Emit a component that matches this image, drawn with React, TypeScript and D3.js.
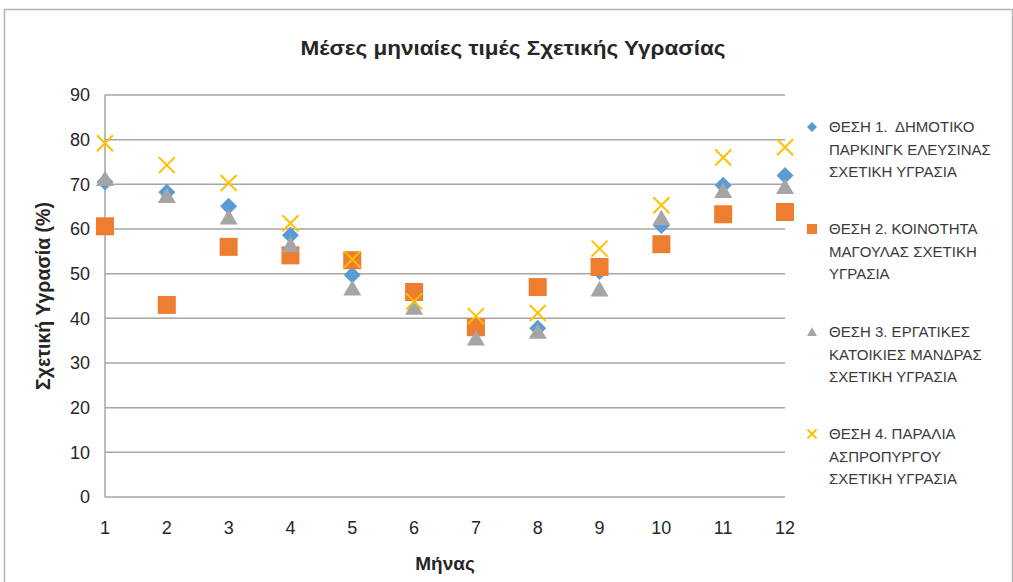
import { useMemo } from 'react';
import { scaleLinear, symbol, symbolSquare, symbolTriangle } from 'd3';

// Data
const months = [1, 2, 3, 4, 5, 6, 7, 8, 9, 10, 11, 12];
const site1 = [70.5, 68.2, 65.1, 58.6, 49.7, 45.2, 37.2, 37.8, 50.5, 60.8, 69.8, 72];
const site2 = [60.6, 43, 56, 54.1, 53, 45.9, 38, 47, 51.5, 56.6, 63.3, 63.8];
const site3 = [71, 67.2, 62.4, 56.2, 46.5, 42.2, 35.3, 36.8, 46.3, 62.2, 68.3, 69.2];
const site4 = [79.2, 74.3, 70.3, 61.3, 53.2, 43.8, 40.5, 41.2, 55.6, 65.3, 76, 78.3];
const yTicks = [0, 10, 20, 30, 40, 50, 60, 70, 80, 90];

const seriesNames = [
  ['ΘΕΣΗ 1.  ΔΗΜΟΤΙΚΟ', 'ΠΑΡΚΙΝΓΚ ΕΛΕΥΣΙΝΑΣ', 'ΣΧΕΤΙΚΗ ΥΓΡΑΣΙΑ'],
  ['ΘΕΣΗ 2. ΚΟΙΝΟΤΗΤΑ', 'ΜΑΓΟΥΛΑΣ ΣΧΕΤΙΚΗ', 'ΥΓΡΑΣΙΑ'],
  ['ΘΕΣΗ 3. ΕΡΓΑΤΙΚΕΣ', 'ΚΑΤΟΙΚΙΕΣ ΜΑΝΔΡΑΣ', 'ΣΧΕΤΙΚΗ ΥΓΡΑΣΙΑ'],
  ['ΘΕΣΗ 4. ΠΑΡΑΛΙΑ', 'ΑΣΠΡΟΠΥΡΓΟΥ', 'ΣΧΕΤΙΚΗ ΥΓΡΑΣΙΑ'],
];

const colors = ['#5b9bd5', '#ed7d31', '#a5a5a5', '#ffc000'];
const shapes = ['diamond', 'square', 'triangle', 'x'];

const font = '"Liberation Sans", "DejaVu Sans", sans-serif';

function Marker({ shape, x, y, color, s }: { shape: string; x: number; y: number; color: string; s: number }) {
  if (shape === 'x') {
    const h = s / 2;
    return (
      <path
        d={`M${x - h},${y - h}L${x + h},${y + h}M${x - h},${y + h}L${x + h},${y - h}`}
        stroke={color}
        strokeWidth={2}
        fill="none"
      />
    );
  }
  if (shape === 'diamond') {
    const side = s / Math.SQRT2;
    return (
      <path
        d={symbol(symbolSquare, side * side)() || ''}
        transform={`translate(${x},${y}) rotate(45)`}
        fill={color}
      />
    );
  }
  if (shape === 'triangle') {
    const area = (Math.sqrt(3) / 4) * s * s;
    return <path d={symbol(symbolTriangle, area)() || ''} transform={`translate(${x},${y + 1})`} fill={color} />;
  }
  return <path d={symbol(symbolSquare, s * s)() || ''} transform={`translate(${x},${y})`} fill={color} />;
}

export default function App() {
  const width = 1013;
  const height = 582;
  const left = 105;
  const right = 785;
  const top = 95;
  const bottom = 497;

  const x = useMemo(() => scaleLinear().domain([1, 12]).range([left, right]), []);
  const y = useMemo(() => scaleLinear().domain([0, 90]).range([bottom, top]), []);

  const series = [site1, site2, site3, site4];
  const sizes = [17, 18, 18, 16];
  const legendY = [127, 229, 332, 434];

  return (
    <div style={{ position: 'fixed', left: 0, top: 0 }}>
      <svg width={width} height={height} style={{ display: 'block', background: '#fff' }}>
        <rect x={4.5} y={9.5} width={1008} height={590} fill="#fff" stroke="#b4b4b4" strokeWidth={1.5} />

        <text
          x={513}
          y={55}
          textAnchor="middle"
          fontFamily={font}
          fontWeight="bold"
          fontSize={21}
          textLength={425}
          lengthAdjust="spacingAndGlyphs"
          fill="#262626"
        >
          Μέσες μηνιαίες τιμές Σχετικής Υγρασίας
        </text>

        {/* grid */}
        {yTicks.map((t) => (
          <g key={t}>
            <line x1={left} x2={right} y1={y(t)} y2={y(t)} stroke="#a6a6a6" strokeWidth={1.5} />
            <text
              x={left - 15}
              y={y(t)}
              dy="0.35em"
              textAnchor="end"
              fontFamily={font}
              fontSize={18}
              fill="#262626"
            >
              {t}
            </text>
          </g>
        ))}
        <line x1={left} x2={left} y1={top} y2={bottom} stroke="#a6a6a6" strokeWidth={1.5} />

        {months.map((m) => (
          <text
            key={m}
            x={x(m)}
            y={bottom + 37}
            textAnchor="middle"
            fontFamily={font}
            fontSize={18}
            fill="#262626"
          >
            {m}
          </text>
        ))}

        <text
          x={(left + right) / 2}
          y={570}
          textAnchor="middle"
          fontFamily={font}
          fontWeight="bold"
          fontSize={19}
          fill="#262626"
        >
          Μήνας
        </text>
        <text
          transform={`translate(50,${(top + bottom) / 2}) rotate(-90)`}
          textAnchor="middle"
          fontFamily={font}
          fontWeight="bold"
          fontSize={19.5}
          fill="#262626"
        >
          Σχετική Υγρασία (%)
        </text>

        {/* points */}
        {series.map((vals, si) => (
          <g key={si}>
            {vals.map((v, i) => (
              <Marker key={i} shape={shapes[si]} x={x(months[i])} y={y(v)} color={colors[si]} s={sizes[si]} />
            ))}
          </g>
        ))}

        {/* legend */}
        {seriesNames.map((lines, si) => (
          <g key={si}>
            <Marker shape={shapes[si]} x={812} y={legendY[si]} color={colors[si]} s={si === 3 ? 9 : 10} />
            {lines.map((ln, li) => (
              <text
                key={li}
                x={829}
                y={legendY[si] + li * 22.5}
                dy="0.35em"
                fontFamily={font}
                fontSize={15}
                fill="#3a3a3a"
                style={{ whiteSpace: 'pre' }}
              >
                {ln}
              </text>
            ))}
          </g>
        ))}
      </svg>
    </div>
  );
}
